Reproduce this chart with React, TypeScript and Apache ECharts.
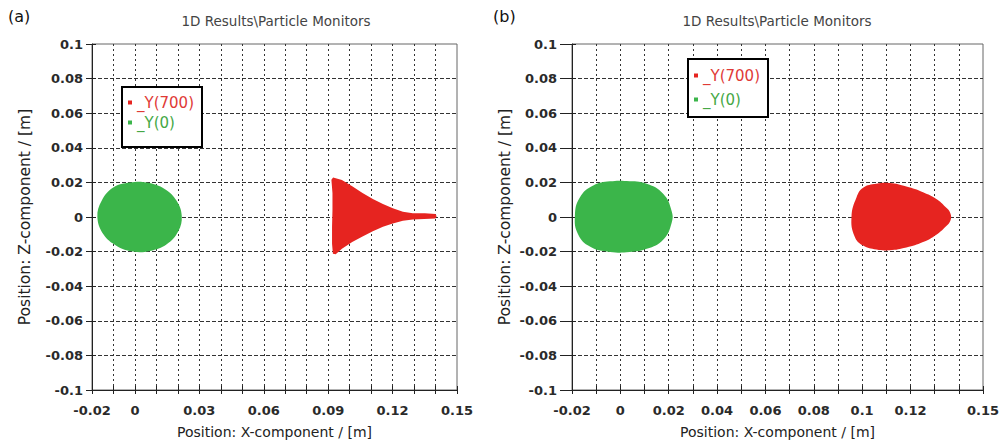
import React, { useEffect, useRef } from "react";
import * as echarts from "echarts";

// ---- data ----
const panelLabels = ["(a)", "(b)"];
const chartTitle = "1D Results\\Particle Monitors";
const xName = "Position: X-component / [m]";
const yName = "Position: Z-component / [m]";
const seriesNames = ["_Y(700)", "_Y(0)"];

const xLabelsA = [-0.02, 0, 0.03, 0.06, 0.09, 0.12, 0.15];
const xLabelsB = [-0.02, 0, 0.02, 0.04, 0.06, 0.08, 0.1, 0.12, 0.15];

// outlines of the particle clouds [x, z]
const greenA = [
  [-0.0175, 0], [-0.0155, 0.0094], [-0.0101, 0.017], [-0.0023, 0.0199], [0.0055, 0.0199],
  [0.014, 0.0161], [0.0194, 0.0094], [0.0218, 0.0006], [0.0202, -0.0082], [0.0148, -0.0157],
  [0.007, -0.0196], [-0.0008, -0.02], [-0.0085, -0.0167], [-0.0147, -0.01],
];
const redA = [
  [0.0923, 0.0228], [0.0964, 0.0214], [0.1012, 0.0178], [0.106, 0.0139], [0.1108, 0.0104],
  [0.1155, 0.0075], [0.1201, 0.0051], [0.1248, 0.0031], [0.1294, 0.0022], [0.135, 0.0022],
  [0.14, 0.0018], [0.1405, 0.0005], [0.14, -0.0008], [0.1294, -0.0014], [0.1248, -0.0022],
  [0.1201, -0.0037], [0.1155, -0.0057], [0.1108, -0.0082], [0.106, -0.0112], [0.1012, -0.0145],
  [0.0964, -0.0184], [0.0935, -0.0215], [0.0922, -0.0212], [0.0918, -0.0155], [0.0918, -0.0057],
  [0.092, 0.0041], [0.092, 0.0139], [0.0915, 0.0215],
];
const greenB = [
  [-0.0188, 0.0006], [-0.0167, 0.0114], [-0.0112, 0.0182], [-0.0043, 0.0206], [0.0026, 0.0208],
  [0.0109, 0.0192], [0.0177, 0.0134], [0.0212, 0.0035], [0.0212, -0.0034], [0.0177, -0.0131],
  [0.0109, -0.0184], [0.0026, -0.0204], [-0.0057, -0.02], [-0.0126, -0.0171], [-0.0174, -0.0102],
];
const redB = [
  [0.0956, 0], [0.0977, 0.0114], [0.1004, 0.0169], [0.1059, 0.0192], [0.1114, 0.0196],
  [0.1183, 0.0176], [0.1252, 0.0143], [0.1307, 0.0104], [0.1345, 0.0058], [0.1365, 0.0022],
  [0.1365, -0.0022], [0.1345, -0.0056], [0.1307, -0.0102], [0.1252, -0.0145], [0.1183, -0.0176],
  [0.1114, -0.0192], [0.1059, -0.0188], [0.1004, -0.0165], [0.0969, -0.0112],
];

const RED = "#e62420";
const GREEN = "#3bb54a";
const FONT = '"DejaVu Sans", Verdana, sans-serif';

const fmt = (v: number) => String(Number(v.toFixed(2)));

function xAxes(gridIndex: number, labels: number[]) {
  return [
    {
      type: "value", gridIndex, min: -0.02, max: 0.15, interval: 0.01,
      axisLine: { show: true, onZero: false, lineStyle: { color: "#222", width: 1 } },
      axisTick: { show: true, inside: false, length: 4, lineStyle: { color: "#222" } },
      axisLabel: {
        margin: 14, color: "#2a2a2a", fontSize: 13, fontWeight: "bold", fontFamily: FONT,
        formatter: (v: number) => (labels.some((l) => Math.abs(l - v) < 1e-9) ? fmt(v) : ""),
      },
      splitLine: { show: true, showMinLine: false, showMaxLine: false, lineStyle: { color: "#333", type: [2, 3], width: 1 } },
      name: xName, nameLocation: "middle", nameGap: 35,
      nameTextStyle: { fontSize: 14, color: "#222", fontFamily: FONT },
    },
    {
      type: "value", gridIndex, min: -0.02, max: 0.15, interval: 0.01, position: "bottom",
      axisLine: { show: false, onZero: false },
      axisTick: { show: true, inside: true, length: 4, lineStyle: { color: "#222" } },
      axisLabel: { show: false }, splitLine: { show: false },
    },
  ];
}

function yAxes(gridIndex: number, tickLen: number, margin: number) {
  return [
    {
      type: "value", gridIndex, min: -0.1, max: 0.1, interval: 0.02,
      axisLine: { show: true, onZero: false, lineStyle: { color: "#222", width: 1 } },
      axisTick: { show: true, inside: false, length: tickLen, lineStyle: { color: "#222" } },
      axisLabel: { margin, color: "#2a2a2a", fontSize: 13, fontWeight: "bold", fontFamily: FONT, formatter: fmt },
      splitLine: { show: true, showMinLine: false, showMaxLine: false, lineStyle: { color: "#333", type: [4, 2], width: 1 } },
      name: yName, nameLocation: "middle", nameGap: 59, nameRotate: 90,
      nameTextStyle: { fontSize: 15.5, color: "#222", fontFamily: FONT },
    },
    {
      type: "value", gridIndex, min: -0.1, max: 0.1, interval: 0.02, position: "left",
      axisLine: { show: false, onZero: false },
      axisTick: { show: true, inside: true, length: 4, lineStyle: { color: "#222" } },
      axisLabel: { show: false }, splitLine: { show: false },
    },
  ];
}

function cloud(name: string, pts: number[][], color: string, xi: number, yi: number, smooth: number) {
  return {
    type: "custom", name, xAxisIndex: xi, yAxisIndex: yi,
    itemStyle: { color },
    data: pts,
    encode: { x: 0, y: 1 },
    renderItem: (params: any, api: any) => {
      if (params.dataIndex !== 0) return null;
      const points = pts.map((p) => api.coord(p));
      return { type: "polygon", shape: { points, smooth }, style: { fill: color } };
    },
  };
}

function legend(left: number, top: number, padding: number[], gap: number) {
  return {
    orient: "vertical", left, top, padding, itemGap: gap,
    backgroundColor: "#fff", borderColor: "#000", borderWidth: 2, borderRadius: 0,
    icon: "rect", itemWidth: 4, itemHeight: 4,
    textStyle: { fontSize: 15, fontFamily: FONT },
    data: [
      { name: seriesNames[0], textStyle: { color: "#e03a36" } },
      { name: seriesNames[1], textStyle: { color: "#45a845" } },
    ],
  };
}

export default function App() {
  const ref = useRef<HTMLDivElement>(null);
  useEffect(() => {
    if (!ref.current) return;
    const chart = echarts.init(ref.current, null, { renderer: "svg" });
    const gridBase = { top: 44, height: 346, show: true, borderColor: "#666", borderWidth: 1, backgroundColor: "#fff", containLabel: false, outerBoundsMode: "none" };
    chart.setOption({
      animation: false,
      backgroundColor: "#fff",
      grid: [
        { ...gridBase, left: 92, width: 365 },
        { ...gridBase, left: 572, width: 411 },
      ],
      xAxis: [...xAxes(0, xLabelsA), ...xAxes(1, xLabelsB)],
      yAxis: [...yAxes(0, 6, 9), ...yAxes(1, 12, 15)],
      legend: [legend(122, 87, [8, 8, 17, 6], 5), legend(688, 59, [9, 8, 10, 6], 9)],
      series: [
        cloud(seriesNames[1], greenA, GREEN, 0, 0, 0.4),
        cloud(seriesNames[0], redA, RED, 0, 0, 0),
        cloud(seriesNames[1], greenB, GREEN, 2, 2, 0.45),
        cloud(seriesNames[0], redB, RED, 2, 2, 0.45),
      ],
      graphic: [
        { type: "text", x: 8, y: 16, style: { text: panelLabels[0], font: `16px ${FONT}`, fill: "#111", align: "left", verticalAlign: "middle" } },
        { type: "text", x: 493, y: 16, style: { text: panelLabels[1], font: `16px ${FONT}`, fill: "#111", align: "left", verticalAlign: "middle" } },
        { type: "text", x: 276, y: 21, style: { text: chartTitle, font: `13.5px ${FONT}`, fill: "#444", align: "center", verticalAlign: "middle" } },
        { type: "text", x: 777, y: 21, style: { text: chartTitle, font: `13.5px ${FONT}`, fill: "#444", align: "center", verticalAlign: "middle" } },
      ],
    });
    return () => chart.dispose();
  }, []);
  return <div ref={ref} style={{ position: "absolute", left: 0, top: 0, width: 1007, height: 446 }} />;
}
